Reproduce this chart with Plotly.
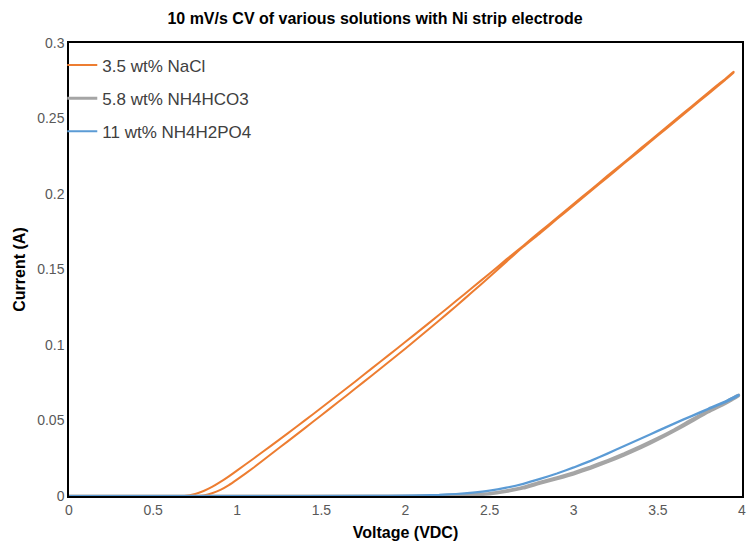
import plotly.graph_objects as go

# Anodic sweep (forward) and return sweep (reverse) voltages, V / currents, A
v_nacl_fwd = [0.0, 0.5, 0.774, 0.8, 0.85, 0.9, 0.95, 1.0, 1.1, 1.2, 1.3, 1.4, 1.5, 1.6, 1.7,
              1.8, 1.9, 2.0, 2.1, 2.2, 2.3, 2.4, 2.5, 2.6, 2.7, 2.8, 2.9, 3.0, 3.1, 3.2,
              3.3, 3.4, 3.5, 3.6, 3.7, 3.8, 3.9, 3.95]
i_nacl_fwd = [0.0, 0.0, 0.0, 0.0004, 0.0018, 0.0040, 0.0072, 0.0110, 0.0190, 0.0276, 0.0362,
              0.0448, 0.0535, 0.0622, 0.0710, 0.0798, 0.0887, 0.0977, 0.1069, 0.1162, 0.1257,
              0.1354, 0.1452, 0.1552, 0.1650, 0.1740, 0.1834, 0.1926, 0.2018, 0.2110, 0.2203,
              0.2294, 0.2388, 0.2478, 0.2572, 0.2662, 0.2755, 0.2804]

v_nacl_rev = [3.95, 3.9, 3.85, 3.8, 3.7, 3.6, 3.5, 3.4, 3.3, 3.2, 3.1, 3.0, 2.9, 2.8, 2.7, 2.6,
              2.5, 2.4, 2.3, 2.2, 2.1, 2.0, 1.9, 1.8, 1.7, 1.6, 1.5, 1.4, 1.3, 1.2, 1.1, 1.0,
              0.95, 0.9, 0.85, 0.8, 0.75, 0.685, 0.5, 0.0]
i_nacl_rev = [0.2810, 0.2762, 0.2718, 0.2672, 0.2580, 0.2488, 0.2396, 0.2304, 0.2210, 0.2120,
              0.2026, 0.1936, 0.1842, 0.1752, 0.1658, 0.1567, 0.1474, 0.1382, 0.1291, 0.1200,
              0.1110, 0.1021, 0.0933, 0.0845, 0.0757, 0.0670, 0.0584, 0.0499, 0.0415, 0.0332,
              0.0250, 0.0170, 0.0130, 0.0093, 0.0060, 0.0033, 0.0013, 0.0, 0.0, 0.0]

v_bicarb_fwd = [0.0, 1.0, 2.0, 2.1, 2.2, 2.3, 2.4, 2.5, 2.6, 2.7, 2.8, 2.9, 3.0, 3.1, 3.2, 3.3,
                3.4, 3.5, 3.6, 3.7, 3.8, 3.9, 3.98]
i_bicarb_fwd = [0.0, 0.0, 0.0, 0.0001, 0.0002, 0.0004, 0.0008, 0.0014, 0.0030, 0.0052, 0.0084,
                0.0114, 0.0146, 0.0184, 0.0226, 0.0271, 0.0321, 0.0374, 0.0432, 0.0494, 0.0556,
                0.0612, 0.0664]
v_bicarb_rev = [3.98, 3.9, 3.8, 3.7, 3.6, 3.5, 3.4, 3.3, 3.2, 3.1, 3.0, 2.9, 2.8, 2.7, 2.6, 2.5,
                2.4, 2.3, 2.2, 2.1, 2.0, 1.0, 0.0]
i_bicarb_rev = [0.0670, 0.0620, 0.0564, 0.0504, 0.0440, 0.0383, 0.0330, 0.0280, 0.0235, 0.0193,
                0.0155, 0.0122, 0.0092, 0.0058, 0.0035, 0.0017, 0.0011, 0.0006, 0.0003, 0.0001,
                0.0, 0.0, 0.0]

v_phos_fwd = [0.0, 1.0, 1.8, 2.0, 2.1, 2.2, 2.3, 2.4, 2.5, 2.6, 2.7, 2.8, 2.9, 3.0, 3.1, 3.2,
              3.3, 3.4, 3.5, 3.6, 3.7, 3.8, 3.9, 3.98]
i_phos_fwd = [0.0, 0.0, 0.0001, 0.0002, 0.0004, 0.0007, 0.0013, 0.0022, 0.0035, 0.0055, 0.0080,
              0.0112, 0.0148, 0.0188, 0.0232, 0.0280, 0.0330, 0.0380, 0.0430, 0.0480, 0.0528,
              0.0575, 0.0620, 0.0666]
v_phos_rev = [3.98, 3.9, 3.8, 3.7, 3.6, 3.5, 3.4, 3.3, 3.2, 3.1, 3.0, 2.9, 2.8, 2.7, 2.6, 2.5,
              2.4, 2.3, 2.2, 2.0, 1.8, 1.0, 0.0]
i_phos_rev = [0.0672, 0.0626, 0.0579, 0.0531, 0.0483, 0.0432, 0.0382, 0.0332, 0.0282, 0.0234,
              0.0190, 0.0150, 0.0114, 0.0082, 0.0056, 0.0036, 0.0023, 0.0014, 0.0008, 0.0003,
              0.0001, 0.0, 0.0]

series = [
    ("3.5 wt% NaCl", v_nacl_fwd + v_nacl_rev, i_nacl_fwd + i_nacl_rev, "#ED7D31", 2.0),
    ("5.8 wt% NH4HCO3", v_bicarb_fwd + v_bicarb_rev, i_bicarb_fwd + i_bicarb_rev, "#A5A5A5", 3.0),
    ("11 wt% NH4H2PO4", v_phos_fwd + v_phos_rev, i_phos_fwd + i_phos_rev, "#5B9BD5", 2.0),
]

FONT = "Liberation Sans, Arial, sans-serif"

fig = go.Figure()
for k, (name, v, i, color, width) in enumerate(series):
    fig.add_trace(go.Scatter(
        x=v, y=i, mode="lines", name=name, legendgroup=str(k),
        line=dict(color=color, width=width, shape="spline", smoothing=0.4),
    ))

axis_common = dict(
    showgrid=False, zeroline=False, showline=True, linecolor="black", linewidth=1.5,
    mirror=True, ticks="", tickfont=dict(family=FONT, size=14, color="#595959"),
)

fig.update_layout(
    width=750, height=543,
    margin=dict(l=69, r=4, t=43, b=47),
    paper_bgcolor="white", plot_bgcolor="white",
    title=dict(text="10 mV/s CV of various solutions with Ni strip electrode",
               x=0.5, xanchor="center", y=0.966, yanchor="middle",
               font=dict(family=FONT, size=16, color="black", weight="bold")),
    xaxis=dict(range=[0, 4], dtick=0.5, tick0=0,
               title=dict(text="Voltage (VDC)", standoff=10,
                          font=dict(family=FONT, size=16, color="black", weight="bold")),
               **axis_common),
    yaxis=dict(range=[0, 0.3], dtick=0.05, tick0=0,
               title=dict(text="Current (A)", standoff=8,
                          font=dict(family=FONT, size=16, color="black", weight="bold")),
               **axis_common),
    legend=dict(x=-0.01, xanchor="left", y=0.99, yanchor="top",
                font=dict(family=FONT, size=17, color="#404040"),
                bgcolor="rgba(0,0,0,0)", traceorder="grouped", tracegroupgap=8,
                itemwidth=30),
    showlegend=True,
)

fig.write_html("out.html")
